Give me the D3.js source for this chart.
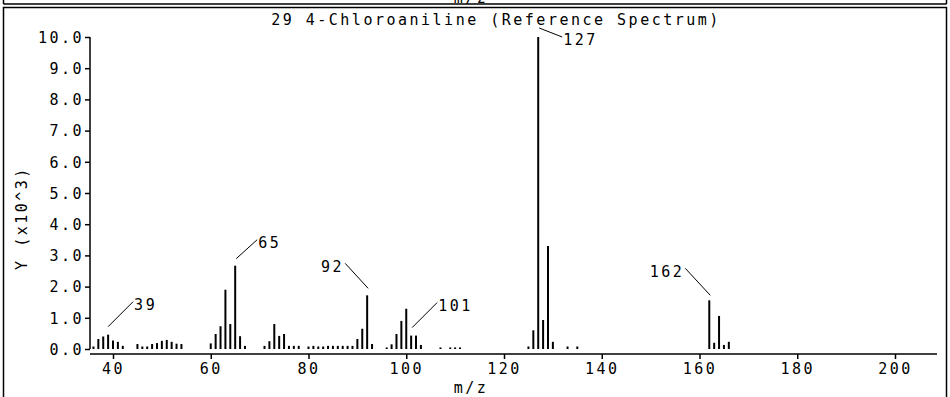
<!doctype html>
<html>
  <head>
    <title>4-Chloroaniline spectrum</title>
    <script src="https://d3js.org/d3.v7.min.js"></script>
    <style>
      body { margin: 0; background: #fff; }
      svg text {
        font-family: "DejaVu Sans Mono", "Liberation Mono", monospace;
        font-size: 15px;
        letter-spacing: 2.5px;
        fill: #000;
      }
      .frame { fill: none; stroke: #000; stroke-width: 1.5; }
      .peak { stroke: #000; stroke-width: 2; }
      .leader { stroke: #000; stroke-width: 1; }
      .axis path, .axis line { stroke: #000; stroke-width: 1.5; }
    </style>
  </head>
  <body>
    <svg width="950" height="397"></svg>
    <script>
      // m/z values and intensities (x10^3)
      var mz = [36, 37, 38, 39, 40, 41, 42, 45, 46, 47, 48, 49, 50, 51, 52, 53, 54,
                60, 61, 62, 63, 64, 65, 66, 67, 71, 72, 73, 74, 75, 76, 77, 78,
                80, 81, 82, 83, 84, 85, 86, 87, 88, 89, 90, 91, 92, 93, 96,
                97, 98, 99, 100, 101, 102, 103, 107, 109, 110, 111,
                125, 126, 127, 128, 129, 130, 133, 135,
                162, 163, 164, 165, 166];
      var intensity = [0.08, 0.32, 0.40, 0.46, 0.27, 0.23, 0.10, 0.16, 0.08, 0.08, 0.16, 0.19, 0.26, 0.29, 0.23, 0.17, 0.16,
                0.18, 0.48, 0.73, 1.90, 0.80, 2.67, 0.41, 0.10, 0.10, 0.25, 0.80, 0.42, 0.48, 0.10, 0.10, 0.10,
                0.08, 0.10, 0.08, 0.08, 0.10, 0.10, 0.10, 0.10, 0.10, 0.10, 0.32, 0.65, 1.72, 0.16, 0.05,
                0.15, 0.48, 0.90, 1.29, 0.43, 0.43, 0.13, 0.05, 0.05, 0.05, 0.05,
                0.08, 0.60, 10.0, 0.93, 3.30, 0.23, 0.08, 0.08,
                1.56, 0.20, 1.06, 0.13, 0.23];
      var xTicks = [40, 60, 80, 100, 120, 140, 160, 180, 200];
      var yTicks = [0, 1, 2, 3, 4, 5, 6, 7, 8, 9, 10];
      var labelled = [39, 65, 92, 101, 127, 162];
      // leader line / label placement relative to the peak top: [x1, y1, x2, y2, side]
      var labelOffsets = [
        [0, -8, 25, -33, "start"],
        [1, -7, 22, -26, "start"],
        [1, -7, -22, -32, "end"],
        [1, -8, 26, -33, "start"],
        [1, -9, 24, 0, "start"],
        [1, -5, -24, -32, "end"]
      ];

      var svg = d3.select("svg");

      // frame (bottom of previous panel + this panel)
      svg.append("text").attr("x", 471).attr("y", 3).attr("text-anchor", "middle").text("m/z");
      svg.append("line").attr("class", "frame").attr("x1", 3.5).attr("x2", 946.5).attr("y1", 4).attr("y2", 4);
      svg.append("line").attr("class", "frame").attr("x1", 3.5).attr("x2", 3.5).attr("y1", 0).attr("y2", 4);
      svg.append("line").attr("class", "frame").attr("x1", 946.5).attr("x2", 946.5).attr("y1", 0).attr("y2", 4);
      svg.append("rect").attr("class", "frame").attr("x", 3.5).attr("y", 7.5).attr("width", 943).attr("height", 395);

      var x = d3.scaleLinear().domain([40, 200]).range([113, 895]);
      var y = d3.scaleLinear().domain([0, 10]).range([349, 37]);

      // axes
      svg.append("g").attr("class", "axis")
        .attr("transform", "translate(90,0)")
        .call(d3.axisLeft(y).tickValues(yTicks).tickSize(5).tickFormat(d3.format(".1f")).tickSizeOuter(0))
        .call(g => g.selectAll("text").style("font-size", "15px").attr("x", -6).attr("dy", "0.35em"))
        .call(g => g.select(".domain").attr("d", "M0," + y(10) + "V" + y(0)));

      svg.append("g").attr("class", "axis")
        .attr("transform", "translate(0,354)")
        .call(d3.axisBottom(x).tickValues(xTicks).tickSize(5).tickSizeOuter(0))
        .call(g => g.selectAll("text").style("font-size", "15px").attr("y", 9))
        .call(g => g.select(".domain").attr("d", "M90,0H937"));

      // peaks
      svg.selectAll("line.peak").data(mz)
        .enter()
        .append("line")
          .attr("class", "peak")
          .attr("x1", d => x(d))
          .attr("x2", d => x(d))
          .attr("y1", y(0))
          .attr("y2", (d, i) => y(intensity[i]));

      // peak labels
      labelled.forEach(function(m, k) {
        var i = mz.indexOf(m);
        var px = x(m), py = y(intensity[i]);
        var o = labelOffsets[k];
        svg.append("line").attr("class", "leader")
          .attr("x1", px + o[0]).attr("y1", py + o[1])
          .attr("x2", px + o[2]).attr("y2", py + o[3]);
        svg.append("text")
          .attr("x", px + o[2] + (o[4] == "start" ? 1 : -1))
          .attr("y", py + o[3] + 3)
          .attr("dy", "0.35em")
          .attr("text-anchor", o[4])
          .text(m);
      });

      // titles
      svg.append("text").attr("x", 496).attr("y", 20).attr("dy", "0.35em")
        .attr("text-anchor", "middle").text("29 4-Chloroaniline (Reference Spectrum)");
      svg.append("text").attr("x", 471).attr("y", 388).attr("dy", "0.35em")
        .attr("text-anchor", "middle").text("m/z");
      svg.append("text").attr("transform", "translate(22,218) rotate(-90)")
        .attr("dy", "0.35em").attr("text-anchor", "middle").text("Y (x10^3)");
    </script>
  </body>
</html>
